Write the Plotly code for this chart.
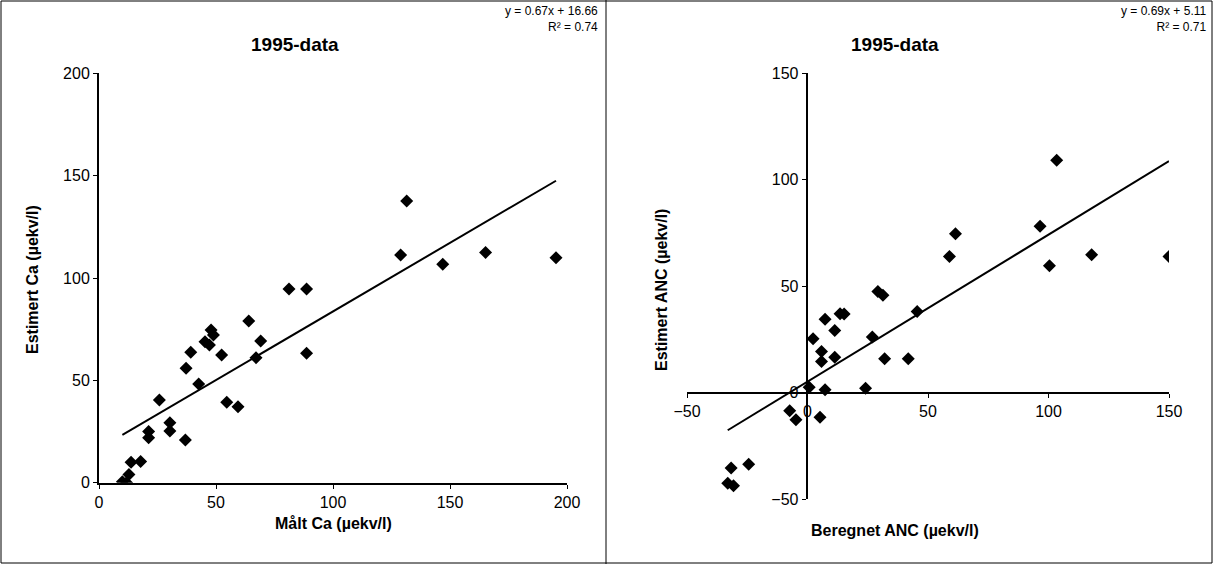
import plotly.graph_objects as go

# Left panel: measured vs estimated Ca
ca_measured = [10, 11.8, 12.8, 13.7, 17.8, 21.2, 21.2, 25.8, 30.3, 30.3, 36.9, 37.2, 39.2,
               42.6, 45.3, 47.2, 47.9, 48.9, 52.4, 54.6, 59.4, 64, 67.1, 69.1, 81.2, 88.7,
               88.7, 128.9, 131.5, 146.9, 165.2, 195.3]
ca_estimated = [0.5, 0, 4, 10, 10.3, 25, 22, 40.4, 29.3, 25.2, 20.8, 55.9, 63.7,
                48.2, 68.9, 67.3, 74.6, 72.1, 62.4, 39.3, 37.1, 79, 61.1, 69.2, 94.6, 94.6,
                63.2, 111.2, 137.6, 106.7, 112.5, 109.9]

# Right panel: calculated vs estimated ANC
anc_calc = [-33.1, -30.7, -31.7, -24.4, -7.4, -4.8, 0.7, 5.2, 7.3, 2.3, 5.8, 5.8, 7.3,
            11.3, 11.3, 13.5, 15.2, 24.1, 26.9, 29.2, 31.3, 32, 41.8, 45.5, 58.9, 61.4,
            96.5, 100.4, 103.4, 117.9, 150]
anc_estimated = [-42.6, -43.8, -35.5, -33.7, -8.6, -12.8, 2.5, -11.6, 1.3, 25.2, 19.3, 14.6, 34.4,
                 29.1, 16.6, 37, 36.8, 2, 26, 47.4, 45.6, 15.8, 15.8, 38, 63.9, 74.5,
                 78, 59.5, 109, 64.7, 63.9]

ca_slope, ca_icpt = 0.67, 16.66
anc_slope, anc_icpt = 0.69, 5.11

FONT = "Liberation Sans, Arial, sans-serif"
W, H = 1213, 564


def px(x):
    return x / W


def py(y):
    return 1 - y / H


fig = go.Figure()
marker = dict(symbol="diamond", size=10, color="black")

fig.add_trace(go.Scatter(x=ca_measured, y=ca_estimated, mode="markers", marker=marker,
                         xaxis="x", yaxis="y", showlegend=False))
xl = [min(ca_measured), max(ca_measured)]
fig.add_trace(go.Scatter(x=xl, y=[ca_slope * v + ca_icpt for v in xl], mode="lines",
                         line=dict(color="black", width=2), xaxis="x", yaxis="y", showlegend=False))

fig.add_trace(go.Scatter(x=anc_calc, y=anc_estimated, mode="markers", marker=marker,
                         xaxis="x2", yaxis="y2", showlegend=False))
xr = [min(anc_calc), max(anc_calc)]
fig.add_trace(go.Scatter(x=xr, y=[anc_slope * v + anc_icpt for v in xr], mode="lines",
                         line=dict(color="black", width=2), xaxis="x2", yaxis="y2", showlegend=False))

ax = dict(showgrid=False, zeroline=False, showline=True, linecolor="black", linewidth=2,
          ticks="outside", ticklen=4, tickcolor="black", tickwidth=1,
          tickfont=dict(size=16, color="black", family=FONT))

fig.update_layout(
    width=W, height=H, margin=dict(l=0, r=0, t=0, b=0, autoexpand=False),
    plot_bgcolor="white", paper_bgcolor="white",
    font=dict(family=FONT, color="black"),
    xaxis=dict(ax, range=[0, 200], dtick=50, domain=[px(99), px(567)], anchor="y"),
    yaxis=dict(ax, range=[0, 200], dtick=50, domain=[py(482.7), py(73.3)], anchor="x"),
    xaxis2=dict(ax, range=[-50, 150], dtick=50, domain=[px(687), px(1169)],
                anchor="free", position=py(392.7)),
    yaxis2=dict(ax, range=[-50, 150], dtick=50, domain=[py(499), py(73)],
                anchor="free", position=px(806.7)),
)


def ann(x, y, text, size=16, bold=False, angle=0):
    fig.add_annotation(x=px(x), y=py(y), xref="paper", yref="paper",
                       text=f"<b>{text}</b>" if bold else text,
                       showarrow=False, textangle=angle, xanchor="center", yanchor="middle",
                       font=dict(size=size, family=FONT, color="black"))


ann(295, 45, "1995-data", 19, True)
ann(895, 45, "1995-data", 19, True)
ann(333, 523, "Målt Ca (µekv/l)", 16, True)
ann(895, 530, "Beregnet ANC (µekv/l)", 16, True)
ann(32, 280, "Estimert Ca (µekv/l)", 16, True, -90)
ann(661, 290, "Estimert ANC (µekv/l)", 16, True, -90)
fig.add_annotation(x=px(600), y=py(2), xref="paper", yref="paper", showarrow=False,
                   text=f"y = {ca_slope}x + {ca_icpt}<br>R² = 0.74", align="right",
                   xanchor="right", yanchor="top", font=dict(size=12, family=FONT, color="black"))
fig.add_annotation(x=px(1208), y=py(2), xref="paper", yref="paper", showarrow=False,
                   text=f"y = {anc_slope}x + {anc_icpt}<br>R² = 0.71", align="right",
                   xanchor="right", yanchor="top", font=dict(size=12, family=FONT, color="black"))

fig.add_shape(type="rect", xref="paper", yref="paper", x0=px(1), x1=px(1212), y0=py(563), y1=py(1),
              line=dict(color="black", width=1))
fig.add_shape(type="line", xref="paper", yref="paper", x0=px(606), x1=px(606), y0=0, y1=1,
              line=dict(color="black", width=1))

fig.write_html("out.html", config={"displayModeBar": False},
               post_script="document.body.style.margin='0';document.body.style.overflow='hidden';")
